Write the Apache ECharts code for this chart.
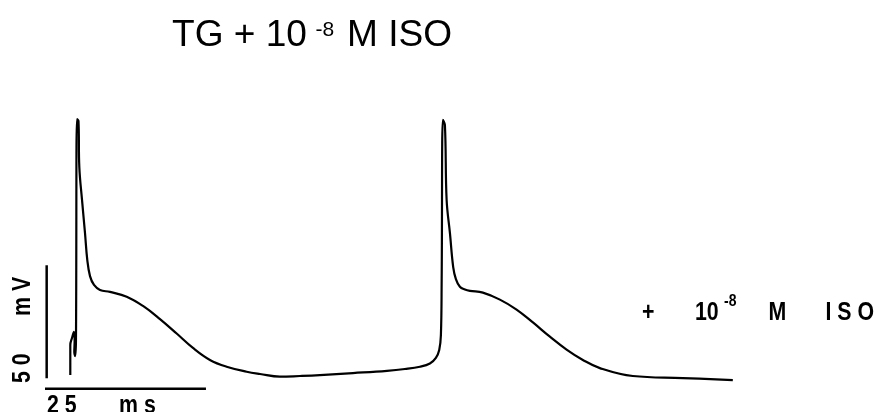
<!DOCTYPE html>
<html><head><meta charset="utf-8">
<script src="https://cdn.jsdelivr.net/npm/echarts@6/dist/echarts.min.js"></script>
<style>html,body{margin:0;padding:0;background:#fff}#c{width:882px;height:412px}</style>
</head><body><div id="c"></div>
<script>
// Membrane potential trace (time in ms, voltage in mV)
const timeMs = [3.93,3.93,4.19,4.50,4.60,4.55,4.69,4.81,4.97,5.20,5.33,5.75,6.21,6.57,6.99,7.61,8.54,10.09,12.69,15.22,17.86,20.45,22.98,25.62,28.21,31.32,33.39,36.49,39.60,42.70,47.83,53.11,55.90,58.23,59.78,60.71,61.23,61.49,61.61,61.80,62.11,62.38,62.89,63.40,63.82,64.44,65.22,66.00,68.01,70.65,73.24,75.78,78.42,81.01,83.54,86.18,91.30,99.07,106.83];
const voltageMv = [-84.6,-71.3,-68.2,-65.5,-69.5,-74.4,-76.2,-69.1,28.7,27.8,7.5,-7.1,-21.7,-33.7,-40.8,-44.7,-46.9,-47.8,-49.9,-54.0,-59.8,-66.2,-72.6,-77.9,-80.9,-83.1,-84.1,-85.3,-85.0,-84.6,-83.7,-82.7,-81.9,-80.9,-79.5,-77.0,-73.5,-66.9,-42.5,28.3,26.1,-7.1,-21.7,-36.8,-42.1,-45.5,-46.7,-47.3,-48.1,-51.2,-55.6,-61.3,-67.6,-73.3,-77.9,-81.5,-85.0,-85.9,-86.8];
// Scale bars
const scaleBarMs = 25;
const scaleBarMv = 50;
// Text
const titleParts = ['TG + 10', '-8', 'M ISO'];
const labelParts = ['+', '10', '-8', 'M', 'I S O'];
const scaleLabels = ['5 0', 'm V', '2 5', 'm s'];

// layout constants
const barT = 0.26, barVBottom = -86.0, barHY = -90.6, barHStart = 0;

const trace = timeMs.map((t, i) => [t, voltageMv[i]]);
const vBar = [[barT, barVBottom], [barT, barVBottom + scaleBarMv]];
const hBar = [[barHStart, barHY], [barHStart + scaleBarMs, barHY]];

const FF = '"Liberation Sans", Arial, sans-serif';
function txt(text, x, y, size, weight, sx, rot) {
  return {
    type: 'text', x: x, y: y, scaleX: sx || 1, rotation: rot || 0,
    style: { text: text, font: weight + ' ' + size + 'px ' + FF, fill: '#000',
      align: 'left', verticalAlign: 'middle', textAlign: 'left', textVerticalAlign: 'middle' }
  };
}

const chart = echarts.init(document.getElementById('c'), null, { renderer: 'canvas' });
chart.setOption({
  animation: false,
  backgroundColor: '#fff',
  grid: { left: 45, top: 93.5, width: 837.2, height: 316.4 },
  xAxis: { type: 'value', min: 0, max: 130, show: false },
  yAxis: { type: 'value', min: -100, max: 40, show: false },
  series: [
    { type: 'line', data: trace, showSymbol: false, symbol: 'none', smooth: 0.4,
      lineStyle: { color: '#000', width: 2.2, join: 'round' }, clip: false },
    { type: 'line', data: vBar, showSymbol: false, symbol: 'none',
      lineStyle: { color: '#000', width: 2.5, cap: 'butt' }, clip: false },
    { type: 'line', data: hBar, showSymbol: false, symbol: 'none',
      lineStyle: { color: '#000', width: 2.5, cap: 'butt' }, clip: false }
  ],
  graphic: [
    txt(titleParts[0], 172, 35.8, 36, 'normal', 1.03),
    txt(titleParts[1], 315.5, 30.5, 21, 'normal', 1),
    txt(titleParts[2], 347, 35.8, 36, 'normal', 1.03),
    txt(labelParts[0], 642, 312.5, 26, 'bold', 0.82),
    txt(labelParts[1], 695, 312.5, 26, 'bold', 0.82),
    txt(labelParts[2], 724, 301, 17, 'bold', 0.82),
    txt(labelParts[3], 768.5, 312.5, 26, 'bold', 0.82),
    txt(labelParts[4], 825.5, 312.5, 26, 'bold', 0.82),
    txt(scaleLabels[0], 22.5, 383, 26, 'bold', 0.82, Math.PI / 2),
    txt(scaleLabels[1], 22.5, 316, 26, 'bold', 0.82, Math.PI / 2),
    txt(scaleLabels[2], 47, 406.3, 26, 'bold', 0.82),
    txt(scaleLabels[3], 119, 406.3, 26, 'bold', 0.82)
  ]
});
</script></body></html>
